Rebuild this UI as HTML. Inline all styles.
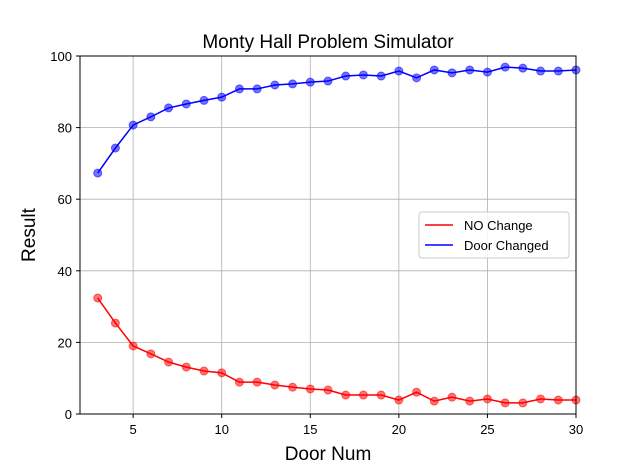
<!DOCTYPE html>
<html><head><meta charset="utf-8"><style>body{margin:0;background:#fff}svg{font-family:"Liberation Sans","DejaVu Sans",sans-serif}</style></head>
<body>
<svg id="c" width="640" height="466"></svg>
<script>
const doorNums=[3,4,5,6,7,8,9,10,11,12,13,14,15,16,17,18,19,20,21,22,23,24,25,26,27,28,29,30];
const changedVals=[67.3,74.3,80.7,83,85.5,86.6,87.6,88.5,90.8,90.8,91.9,92.2,92.7,93,94.4,94.7,94.4,95.8,93.9,96.1,95.3,96.1,95.5,96.9,96.6,95.8,95.8,96.1];
const noChangeVals=[32.4,25.4,19,16.8,14.5,13.1,12,11.5,8.9,8.9,8.1,7.5,7,6.7,5.3,5.3,5.3,3.9,6.1,3.6,4.7,3.6,4.2,3.1,3.1,4.2,3.9,3.9];
const xTicks=[5,10,15,20,25,30];
const yTicks=[0,20,40,60,80,100];
const L=80,R=576,T=56,B=414;
const sx=v=>L+(v-2)/(30-2)*(R-L);
const sy=v=>B-(v-0)/100*(B-T);
const svg=document.getElementById('c');
const NS='http://www.w3.org/2000/svg';
function mk(t,a,p){const e=document.createElementNS(NS,t);for(const k in a)e.setAttribute(k,a[k]);(p||svg).appendChild(e);return e;}
const g=mk('g',{});


xTicks.forEach(v=>{mk('line',{x1:sx(v),x2:sx(v),y1:T,y2:B,stroke:'#b0b0b0','stroke-width':0.8},g);
 const t=mk('text',{x:sx(v),y:B+20,'text-anchor':'middle','font-size':13});t.textContent=v;
 
 mk('line',{x1:sx(v),x2:sx(v),y1:B,y2:B+4,stroke:'#000'});});
yTicks.forEach(v=>{mk('line',{x1:L,x2:R,y1:sy(v),y2:sy(v),stroke:'#b0b0b0','stroke-width':0.8},g);
 const t=mk('text',{x:L-8,y:sy(v)+5,'text-anchor':'end','font-size':13});t.textContent=v;
 
 mk('line',{x1:L-4,x2:L,y1:sy(v),y2:sy(v),stroke:'#000'});});
function series(vals,col,name){
 const gg=mk('g',{});
 
 
 mk('polyline',{points:vals.map((v,i)=>sx(doorNums[i])+','+sy(v)).join(' '),fill:'none',stroke:col,'stroke-width':1.5},gg);
 vals.forEach((v,i)=>{const c=mk('circle',{cx:sx(doorNums[i]),cy:sy(v),r:4,fill:col,'fill-opacity':0.55,stroke:col,'stroke-opacity':0.55},gg);
  });
}
series(noChangeVals,'#ff0000','no-change-series');
series(changedVals,'#0000ff','door-changed-series');
const fr=mk('rect',{x:L,y:T,width:R-L,height:B-T,fill:'none',stroke:'#000','stroke-width':1});

const ti=mk('text',{x:(L+R)/2,y:48,'text-anchor':'middle','font-size':19});ti.textContent='Monty Hall Problem Simulator';

const xl=mk('text',{x:(L+R)/2,y:460,'text-anchor':'middle','font-size':19});xl.textContent='Door Num';

const yl=mk('text',{x:35,y:(T+B)/2,'text-anchor':'middle','font-size':19,transform:'rotate(-90 35 '+(T+B)/2+')'});yl.textContent='Result';

const lg=mk('g',{});


mk('rect',{x:419,y:212,width:150,height:46,rx:3,fill:'#fff','fill-opacity':0.85,stroke:'#ccc'},lg);
[['NO Change','#ff0000'],['Door Changed','#0000ff']].forEach((e,i)=>{const y=225+i*20;
 mk('line',{x1:425,x2:453,y1:y,y2:y,stroke:e[1],'stroke-width':1.5},lg);
 const t=mk('text',{x:464,y:y+5,'font-size':13},lg);t.textContent=e[0];
 });
</script>
</body></html>
